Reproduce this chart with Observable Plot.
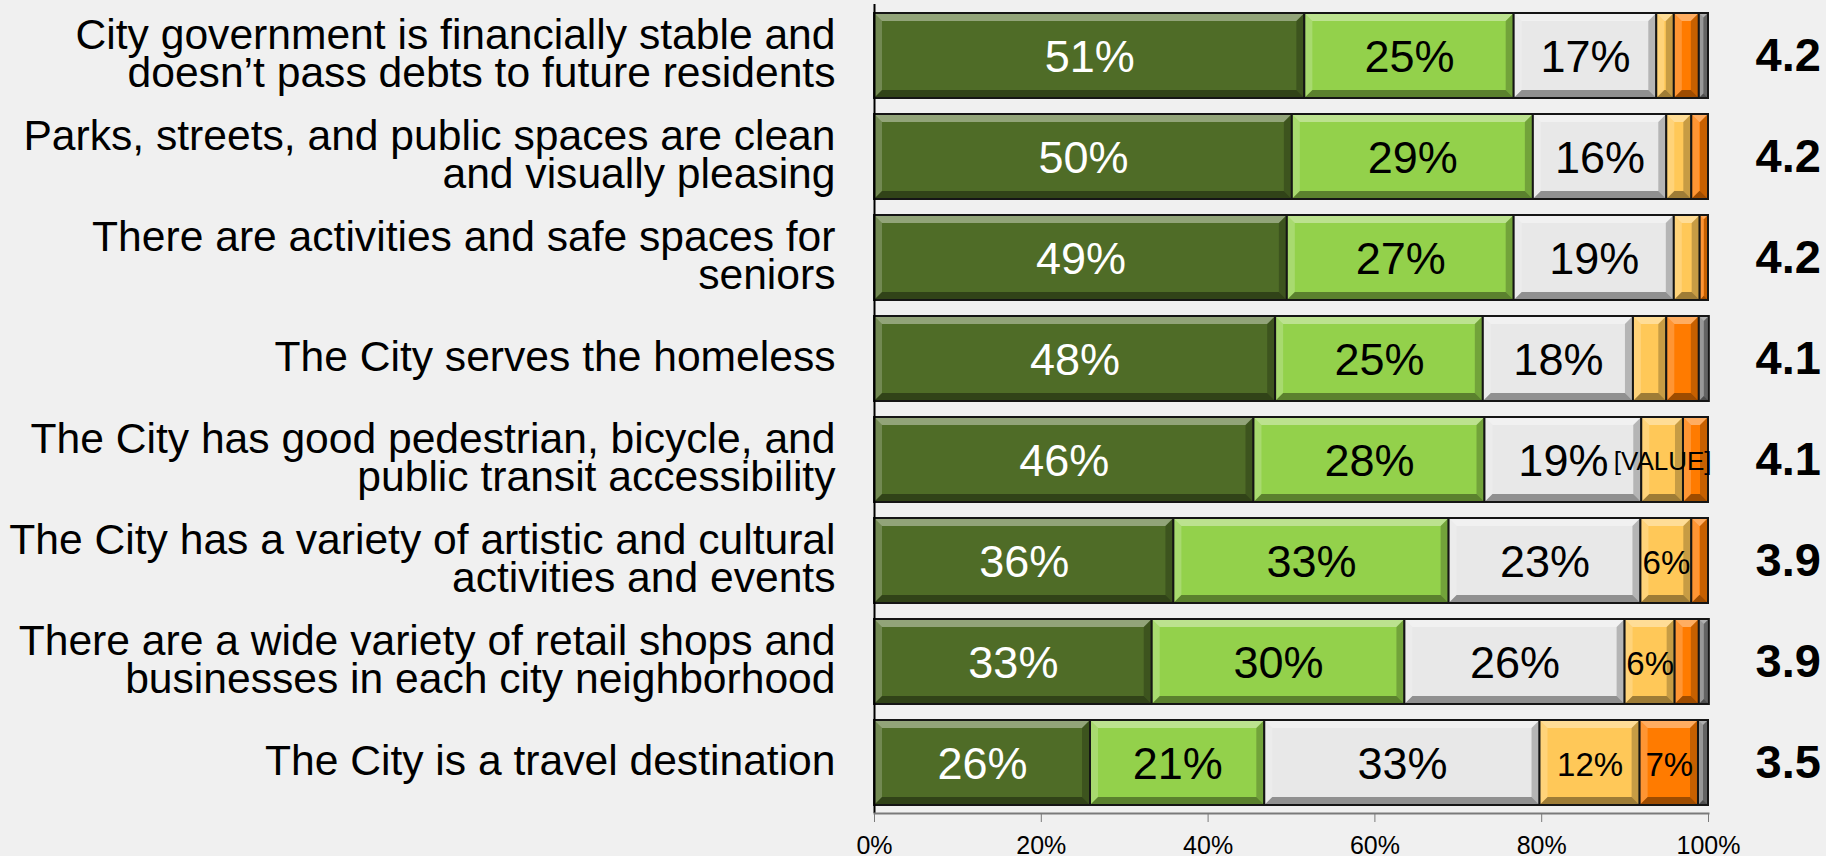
<!DOCTYPE html>
<html><head><meta charset="utf-8">
<script src="https://cdn.jsdelivr.net/npm/d3@7"></script>
<script src="https://cdn.jsdelivr.net/npm/@observablehq/plot@0.6"></script>
<style>
html,body{margin:0;padding:0;background:#f0f0f0;}
#chart svg{display:block}
</style></head><body><div id="chart"></div>
<script>
const categories = [
  "City government is financially stable and\ndoesn’t pass debts to future residents",
  "Parks, streets, and public spaces are clean\nand visually pleasing",
  "There are activities and safe spaces for\nseniors",
  "The City serves the homeless",
  "The City has good pedestrian, bicycle, and\npublic transit accessibility",
  "The City has a variety of artistic and cultural\nactivities and events",
  "There are a wide variety of retail shops and\nbusinesses in each city neighborhood",
  "The City is a travel destination"
];
const seriesNames = ["Strongly agree", "Agree", "Neutral", "Disagree", "Strongly disagree", "Don't know"];
const seriesColors = ["#4f6c27", "#93d14b", "#e8e8e8", "#ffc858", "#ff7b00", "#7f7f7f"];

const stronglyAgree    = [51.6, 50.1, 49.5, 48.1, 45.5, 35.9, 33.3, 25.9];
const agree            = [25.1, 28.9, 27.2, 24.9, 27.7, 33.0, 30.3, 20.9];
const neutral          = [17.1, 16.0, 19.2, 18.0, 18.8, 23.0, 26.4, 33.0];
const disagree         = [2.1, 3.0, 3.1, 4.0, 5.0, 6.1, 6.0, 12.0];
const stronglyDisagree = [3.0, 2.0, 1.0, 3.9, 3.0, 2.0, 2.9, 7.0];
const dontKnow         = [1.1, 0, 0, 1.2, 0, 0, 1.2, 1.2];

const stronglyAgreeLabels    = ["51%", "50%", "49%", "48%", "46%", "36%", "33%", "26%"];
const agreeLabels            = ["25%", "29%", "27%", "25%", "28%", "33%", "30%", "21%"];
const neutralLabels          = ["17%", "16%", "19%", "18%", "19%", "23%", "26%", "33%"];
const disagreeLabels         = ["", "", "", "", "[VALUE]", "6%", "6%", "12%"];
const stronglyDisagreeLabels = ["", "", "", "", "", "", "", "7%"];
const dontKnowLabels         = ["", "", "", "", "", "", "", ""];

const means = ["4.2", "4.2", "4.2", "4.1", "4.1", "3.9", "3.9", "3.5"];
const xTicks = [0, 20, 40, 60, 80, 100];

const seriesValues = [stronglyAgree, agree, neutral, disagree, stronglyDisagree, dontKnow];
const seriesLabels = [stronglyAgreeLabels, agreeLabels, neutralLabels, disagreeLabels, stronglyDisagreeLabels, dontKnowLabels];

const data = [];
categories.forEach((cat, i) => {
  seriesNames.forEach((name, j) => {
    data.push({cat, series: name, idx: j, value: seriesValues[j][i], label: seriesLabels[j][i]});
  });
});

const font = "'Liberation Sans', Arial, Helvetica, sans-serif";

const plot = Plot.plot({
  width: 1826,
  height: 856,
  marginLeft: 874,
  marginRight: 118,
  marginTop: 4,
  marginBottom: 43,
  style: {background: "#f0f0f0", fontFamily: font, overflow: "visible", color: "black"},
  x: {domain: [0, 100]},
  y: {domain: categories, paddingInner: 0.16, paddingOuter: 0.08},
  color: {domain: seriesNames, range: seriesColors},
  marks: [
    Plot.barX(data, Plot.stackX({x: "value", y: "cat", fill: "series", stroke: "#151515", strokeWidth: 2})),
    Plot.text(data, Plot.stackX({
      x: "value", y: "cat",
      text: d => d.idx === 0 ? d.label : "",
      fill: "white", fontSize: 45, dy: 2
    })),
    Plot.text(data, Plot.stackX({
      x: "value", y: "cat",
      text: d => d.idx > 0 ? d.label : "",
      fill: "black", dy: 2,
      fontSize: d => d.idx < 3 ? 45 : (d.label.length > 4 ? 26 : 33)
    })),
    Plot.ruleX([0], {stroke: "black", strokeWidth: 2}),
    Plot.frame({anchor: "bottom", stroke: "#7a7a7a", strokeWidth: 2}),
    Plot.axisX({ticks: xTicks, tickFormat: d => d + "%", tickSize: 9, tickPadding: 14, fontSize: 25, stroke: "#7a7a7a", fill: "black", label: null}),
    Plot.axisY({anchor: "left", tickSize: 0, tickPadding: 39, fontSize: 42.6, lineHeight: 0.88, fill: "black", label: null}),
    Plot.axisY({anchor: "right", tickSize: 0, tickPadding: 47, fontSize: 47, fontWeight: "bold", fill: "black",
      tickFormat: d => means[categories.indexOf(d)], label: null})
  ]
});

document.getElementById("chart").appendChild(plot);

// bevel effect on each bar segment, using positions computed by Plot
const NS = "http://www.w3.org/2000/svg";
d3.select(plot).selectAll('g[aria-label="bar"] rect').each(function() {
  const r = this;
  const x = +r.getAttribute("x") + 1, y = +r.getAttribute("y") + 1;
  const w = +r.getAttribute("width") - 2, h = +r.getAttribute("height") - 2;
  if (!(w > 1) || !(h > 1)) return;
  const b = Math.min(7, w / 2, h / 2);
  const g = document.createElementNS(NS, "g");
  g.setAttribute("stroke", "none");
  const faces = [
    [[x, y], [x + w, y], [x + w - b, y + b], [x + b, y + b], "white", 0.38],
    [[x, y], [x + b, y + b], [x + b, y + h - b], [x, y + h], "white", 0.2],
    [[x + w, y], [x + w, y + h], [x + w - b, y + h - b], [x + w - b, y + b], "black", 0.22],
    [[x, y + h], [x + b, y + h - b], [x + w - b, y + h - b], [x + w, y + h], "black", 0.38]
  ];
  for (const f of faces) {
    const p = document.createElementNS(NS, "polygon");
    p.setAttribute("points", f.slice(0, 4).map(q => q.join(",")).join(" "));
    p.setAttribute("fill", f[4]);
    p.setAttribute("fill-opacity", f[5]);
    p.setAttribute("stroke", "none");
    g.appendChild(p);
  }
  r.parentNode.insertBefore(g, r.nextSibling);
});
</script>
</body></html>
